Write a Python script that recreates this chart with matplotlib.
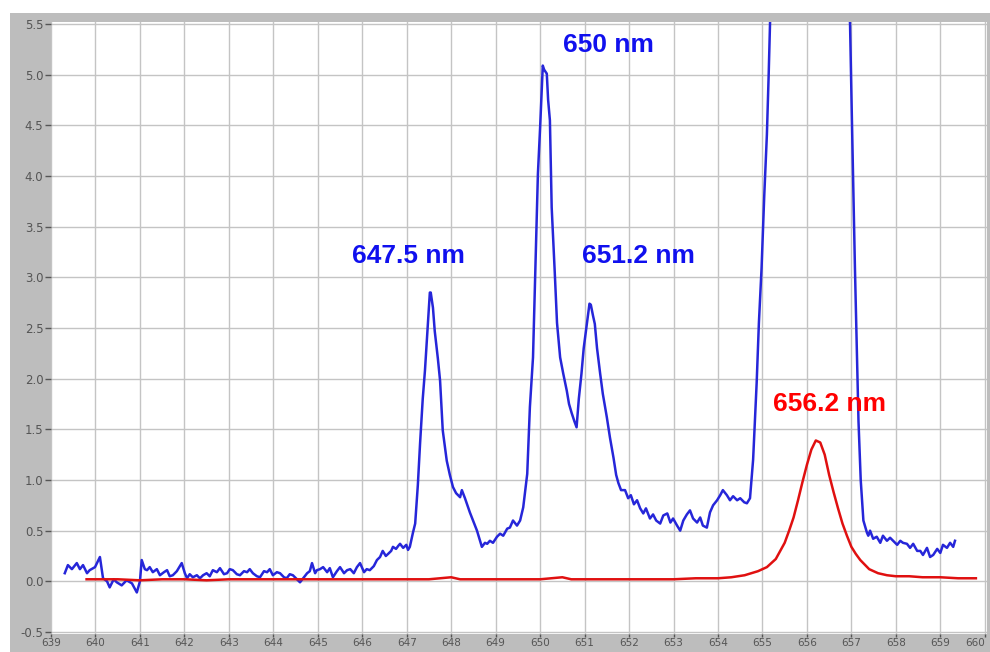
import matplotlib
matplotlib.use("Agg")
import matplotlib.pyplot as plt
from matplotlib.patches import Rectangle

# ---------------- data ----------------
blue_nm = [639.31, 639.38, 639.47, 639.58, 639.65, 639.72, 639.81, 639.87, 639.99, 640.10,
           640.17, 640.26, 640.32, 640.41, 640.48, 640.59, 640.70, 640.82, 640.93, 641.00,
           641.04, 641.11, 641.16, 641.22, 641.29, 641.38, 641.45, 641.54, 641.61, 641.67,
           641.74, 641.83, 641.94, 642.01, 642.06, 642.12, 642.19, 642.28, 642.35, 642.42,
           642.50, 642.57, 642.64, 642.73, 642.80, 642.89, 642.96, 643.02, 643.09, 643.18,
           643.25, 643.34, 643.41, 643.47, 643.54, 643.63, 643.70, 643.79, 643.86, 643.92,
           643.99, 644.08, 644.15, 644.24, 644.30, 644.37, 644.44, 644.53, 644.60, 644.69,
           644.76, 644.82, 644.87, 644.94, 644.98, 645.05, 645.12, 645.21, 645.27, 645.34,
           645.43, 645.50, 645.59, 645.66, 645.73, 645.81, 645.88, 645.95, 646.04, 646.10,
           646.17, 646.26, 646.33, 646.40, 646.46, 646.53, 646.58, 646.65, 646.69, 646.76,
           646.81, 646.85, 646.92, 646.99, 647.03, 647.07, 647.14, 647.19, 647.25, 647.30,
           647.36, 647.41, 647.48, 647.52, 647.54, 647.59, 647.63, 647.70, 647.75, 647.81,
           647.90, 647.97, 648.04, 648.11, 648.20, 648.24, 648.31, 648.35, 648.42, 648.49,
           648.58, 648.65, 648.69, 648.76, 648.81, 648.87, 648.94, 649.03, 649.10, 649.17,
           649.26, 649.32, 649.39, 649.48, 649.55, 649.62, 649.71, 649.77, 649.84, 649.91,
           649.95, 650.00, 650.06, 650.09, 650.15, 650.18, 650.22, 650.26, 650.33, 650.38,
           650.45, 650.52, 650.60, 650.65, 650.71, 650.77, 650.82, 650.87, 650.93, 650.98,
           651.05, 651.11, 651.14, 651.19, 651.23, 651.28, 651.35, 651.41, 651.50, 651.57,
           651.65, 651.71, 651.76, 651.82, 651.91, 651.98, 652.04, 652.11, 652.18, 652.25,
           652.32, 652.38, 652.47, 652.54, 652.61, 652.70, 652.77, 652.86, 652.93, 652.99,
           653.08, 653.15, 653.22, 653.30, 653.37, 653.44, 653.53, 653.60, 653.66, 653.75,
           653.82, 653.89, 653.98, 654.05, 654.11, 654.20, 654.27, 654.34, 654.43, 654.50,
           654.59, 654.65, 654.72, 654.79, 654.87, 654.92, 654.98, 655.04, 655.10, 655.14,
           655.17, 655.22, 655.60, 656.10, 656.60, 656.90, 656.97, 657.01, 657.08, 657.16,
           657.21, 657.27, 657.35, 657.38, 657.42, 657.49, 657.57, 657.65, 657.71, 657.80,
           657.87, 657.94, 658.03, 658.10, 658.16, 658.25, 658.32, 658.39, 658.48, 658.55,
           658.61, 658.70, 658.77, 658.84, 658.93, 659.00, 659.06, 659.15, 659.22, 659.29,
           659.33]
blue_val = [0.08, 0.16, 0.12, 0.18, 0.12, 0.16, 0.08, 0.11, 0.14, 0.24,
            0.03, 0.00, -0.06, 0.02, -0.01, -0.04, 0.01, -0.02, -0.11, 0.00,
            0.21, 0.12, 0.11, 0.14, 0.09, 0.12, 0.06, 0.09, 0.11, 0.05,
            0.06, 0.10, 0.18, 0.08, 0.03, 0.07, 0.04, 0.06, 0.03, 0.06,
            0.08, 0.05, 0.11, 0.09, 0.13, 0.07, 0.08, 0.12, 0.11, 0.07,
            0.06, 0.10, 0.09, 0.12, 0.08, 0.05, 0.04, 0.10, 0.09, 0.12,
            0.06, 0.09, 0.08, 0.04, 0.03, 0.07, 0.06, 0.02, -0.01, 0.04,
            0.08, 0.10, 0.18, 0.08, 0.11, 0.12, 0.14, 0.09, 0.13, 0.04,
            0.10, 0.14, 0.08, 0.11, 0.12, 0.08, 0.14, 0.18, 0.09, 0.12,
            0.11, 0.15, 0.21, 0.24, 0.30, 0.25, 0.27, 0.30, 0.34, 0.32,
            0.35, 0.37, 0.33, 0.36, 0.31, 0.34, 0.48, 0.57, 0.95, 1.36,
            1.80, 2.08, 2.57, 2.85, 2.85, 2.70, 2.47, 2.20, 1.98, 1.49,
            1.19, 1.05, 0.93, 0.87, 0.83, 0.90, 0.82, 0.77, 0.68, 0.60,
            0.50, 0.40, 0.34, 0.38, 0.37, 0.40, 0.38, 0.44, 0.47, 0.45,
            0.52, 0.53, 0.60, 0.55, 0.60, 0.73, 1.06, 1.72, 2.21, 3.36,
            4.02, 4.48, 5.09, 5.05, 5.01, 4.75, 4.55, 3.69, 3.04, 2.55,
            2.21, 2.05, 1.88, 1.75, 1.66, 1.58, 1.52, 1.80, 2.05, 2.30,
            2.54, 2.74, 2.73, 2.62, 2.54, 2.30, 2.05, 1.85, 1.62, 1.42,
            1.22, 1.05, 0.97, 0.90, 0.90, 0.82, 0.85, 0.76, 0.80, 0.72,
            0.67, 0.72, 0.62, 0.66, 0.60, 0.57, 0.65, 0.67, 0.58, 0.62,
            0.55, 0.50, 0.60, 0.66, 0.70, 0.62, 0.58, 0.63, 0.55, 0.53,
            0.68, 0.75, 0.80, 0.85, 0.90, 0.85, 0.80, 0.84, 0.80, 0.82,
            0.78, 0.77, 0.82, 1.20, 1.96, 2.55, 3.09, 3.80, 4.41, 5.00,
            5.50, 6.20, 8.00, 10.00, 8.00, 6.20, 5.50, 4.60, 3.09, 1.58,
            1.00, 0.60, 0.48, 0.45, 0.50, 0.42, 0.44, 0.38, 0.45, 0.40,
            0.43, 0.40, 0.36, 0.40, 0.38, 0.37, 0.33, 0.37, 0.30, 0.30,
            0.26, 0.33, 0.24, 0.26, 0.32, 0.28, 0.36, 0.33, 0.38, 0.34,
            0.40]

red_nm = [639.8, 640.5, 641.0, 641.5, 642.0, 642.5, 643.0, 643.5, 644.0, 644.5,
          645.0, 645.5, 646.0, 646.5, 647.0, 647.5, 648.0, 648.2, 648.5, 649.0,
          649.5, 650.0, 650.5, 650.7, 651.0, 651.5, 652.0, 652.5, 653.0, 653.5,
          654.0, 654.3, 654.6, 654.9, 655.1, 655.3, 655.4, 655.5, 655.6, 655.7,
          655.8, 655.9, 656.0, 656.1, 656.2, 656.3, 656.4, 656.5, 656.6, 656.7,
          656.8, 656.9, 657.0, 657.1, 657.2, 657.4, 657.6, 657.8, 658.0, 658.3,
          658.6, 659.0, 659.4, 659.8]
red_val = [0.02, 0.02, 0.01, 0.02, 0.02, 0.01, 0.02, 0.02, 0.02, 0.02,
           0.02, 0.02, 0.02, 0.02, 0.02, 0.02, 0.04, 0.02, 0.02, 0.02,
           0.02, 0.02, 0.04, 0.02, 0.02, 0.02, 0.02, 0.02, 0.02, 0.03,
           0.03, 0.04, 0.06, 0.10, 0.14, 0.22, 0.30, 0.38, 0.50, 0.63,
           0.80, 0.98, 1.15, 1.30, 1.39, 1.37, 1.25, 1.05, 0.88, 0.72,
           0.57, 0.45, 0.34, 0.27, 0.21, 0.12, 0.08, 0.06, 0.05, 0.05,
           0.04, 0.04, 0.03, 0.03]

x_ticks = list(range(639, 661))
y_ticks = [-0.5, 0.0, 0.5, 1.0, 1.5, 2.0, 2.5, 3.0, 3.5, 4.0, 4.5, 5.0, 5.5]

labels_blue = [("647.5 nm", 647.03, 3.21), ("650 nm", 651.53, 5.29), ("651.2 nm", 652.22, 3.21)]
labels_red = [("656.2 nm", 656.50, 1.75)]

# ---------------- figure ----------------
W, H = 990, 652
fig = plt.figure(figsize=(W / 100, H / 100), dpi=100, facecolor="white")

# gray panel frame
fig.patches.append(Rectangle((9.5 / W, 0), 1 - 9.5 / W, 1 - 12.7 / H,
                             transform=fig.transFigure, facecolor="#bdbdbd",
                             edgecolor="none", zorder=0))

left, right, top, bottom = 51, 987, 22, 634
ax = fig.add_axes([left / W, 1 - bottom / H, (right - left) / W, (bottom - top) / H])
ax.set_facecolor("white")
ax.set_zorder(1)

ax.plot(blue_nm, blue_val, color="#2626d9", lw=1.8, zorder=3, solid_joinstyle="round")
ax.plot(red_nm, red_val, color="#e01010", lw=1.8, zorder=4, solid_joinstyle="round")

ax.set_xlim(639, 660.05)
ax.set_ylim(-0.52, 5.52)
ax.set_xticks(x_ticks)
ax.set_xticklabels([str(t) for t in x_ticks])
ax.set_yticks(y_ticks)
ax.set_yticklabels([("-" if t < 0 else "") + "%.1f" % abs(t) for t in y_ticks])
ax.grid(True, color="#c4c4c4", lw=1.0, zorder=0)
ax.set_axisbelow(True)
for s in ax.spines.values():
    s.set_visible(False)
ax.tick_params(axis="y", direction="out", length=4, width=1, color="#555555",
               labelcolor="#555555", labelsize=8.5, pad=1.5)
ax.tick_params(axis="x", direction="out", length=2.5, width=1, color="#555555",
               labelcolor="#555555", labelsize=7.5, pad=0.3)
ax.get_xticklabels()[-1].set_horizontalalignment("right")

for txt, x, y in labels_blue:
    ax.text(x, y, txt, color="#1010ee", fontsize=19, fontweight="bold",
            family=["Liberation Sans", "DejaVu Sans"], ha="center", va="center", zorder=5)
for txt, x, y in labels_red:
    ax.text(x, y, txt, color="#ff0000", fontsize=19, fontweight="bold",
            family=["Liberation Sans", "DejaVu Sans"], ha="center", va="center", zorder=5)

fig.savefig("out.png", dpi=100, facecolor="white")
